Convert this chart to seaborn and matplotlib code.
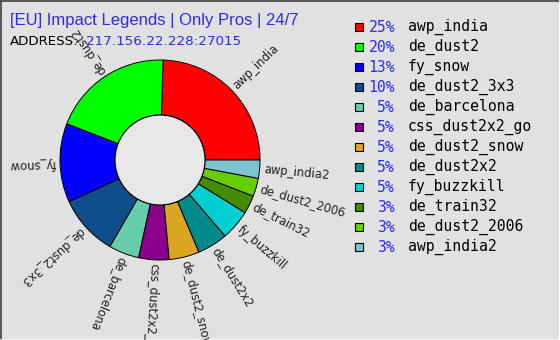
import numpy as np
import matplotlib
matplotlib.use('Agg')
import matplotlib.pyplot as plt
from matplotlib.patches import Circle, Rectangle
from matplotlib.lines import Line2D
import seaborn as sns

# chart data
maps = ['awp_india', 'de_dust2', 'fy_snow', 'de_dust2_3x3', 'de_barcelona',
        'css_dust2x2_go', 'de_dust2_snow', 'de_dust2x2', 'fy_buzzkill',
        'de_train32', 'de_dust2_2006', 'awp_india2']
shares = [25, 20, 13, 10, 5, 5, 5, 5, 5, 3, 3, 3]
title = '[EU] Impact Legends | Only Pros | 24/7'
address = '217.156.22.228:27015'
center_lines = ['Powered by', 'CS-BEST.org.ua', 'monitoring', 'rating']

palette = sns.color_palette(['#ff0000', '#00ff00', '#0000ff', '#104e8b', '#66cdaa',
                             '#8b008b', '#daa520', '#008b8b', '#00ced1',
                             '#458b00', '#66cd00', '#7ec4d0'])
BG = '#e1e1e1'
BLUE = '#2a2aff'

sns.set_style('white')
plt.rcParams['font.family'] = ['DejaVu Sans']

W, H = 560, 340
fig = plt.figure(figsize=(W / 100, H / 100), dpi=100, facecolor=BG)

# pixel overlay for text/legend
ov = fig.add_axes([0, 0, 1, 1])
ov.set_xlim(0, W)
ov.set_ylim(H, 0)
ov.axis('off')

# pie axes: centre (160,160), outer radius 100 px
cx, cy, R, r_in = 160, 160, 100, 45
half = 110
pa = fig.add_axes([(cx - half) / W, (H - cy - half) / H, 2 * half / W, 2 * half / H])
wedges, _ = pa.pie(shares, colors=palette, startangle=0, counterclock=True,
                   radius=R, wedgeprops=dict(width=R - r_in, edgecolor='black', linewidth=0.7))
pa.add_patch(Circle((0, 0), r_in, facecolor='#e8e8e8', edgecolor='black', linewidth=0.8, zorder=5))
pa.set_xlim(-half, half)
pa.set_ylim(-half, half)
pa.axis('off')

for w, name in zip(wedges, maps):
    ang = (w.theta1 + w.theta2) / 2
    rad = np.deg2rad(ang)
    pa.text(104 * np.cos(rad), 104 * np.sin(rad), name, rotation=ang % 360,
            rotation_mode='anchor', ha='left', va='center', fontsize=8.4,
            color='#222222', clip_on=False)

# centre text
ys = [146, 160, 174, 188]
for i, (txt, y) in enumerate(zip(center_lines, ys)):
    ov.text(cx, y, txt, ha='center', va='center', family='DejaVu Sans Mono',
            fontsize=8 if i == 0 else 7.6, fontweight='bold' if i == 0 else 'normal',
            color=BLUE if i == 1 else 'black', zorder=10)

# title and address
ov.text(10, 25, title, ha='left', va='baseline', fontsize=12, color=BLUE,
        family=['Liberation Sans', 'DejaVu Sans'])
ov.text(10, 45, 'ADDRESS:', ha='left', va='baseline', fontsize=9.6, color='black')
ov.text(86, 45, address, ha='left', va='baseline', fontsize=9.7, color=BLUE)

# legend
for i, (name, p) in enumerate(zip(maps, shares)):
    y = 27 + 20 * i
    ov.add_patch(Rectangle((355, y - 4), 8, 8, facecolor=palette[i], edgecolor='black', linewidth=0.8))
    ov.text(395, y, f'{p}%', ha='right', va='center', family='DejaVu Sans Mono',
            fontsize=10.6, color=BLUE)
    ov.text(408, y, name, ha='left', va='center', family='DejaVu Sans Mono',
            fontsize=10.6, color='black')

# bevel frame
ov.add_line(Line2D([0.5, 0.5], [H, 0.5], color='#404040', lw=1.2))
ov.add_line(Line2D([0, W], [0.5, 0.5], color='#404040', lw=1.2))
ov.add_line(Line2D([W - 0.5, W - 0.5], [0, H], color='white', lw=1.2))
ov.add_line(Line2D([0, W], [H - 0.5, H - 0.5], color='white', lw=1.2))

fig.savefig('out.png', dpi=100, facecolor=BG)
